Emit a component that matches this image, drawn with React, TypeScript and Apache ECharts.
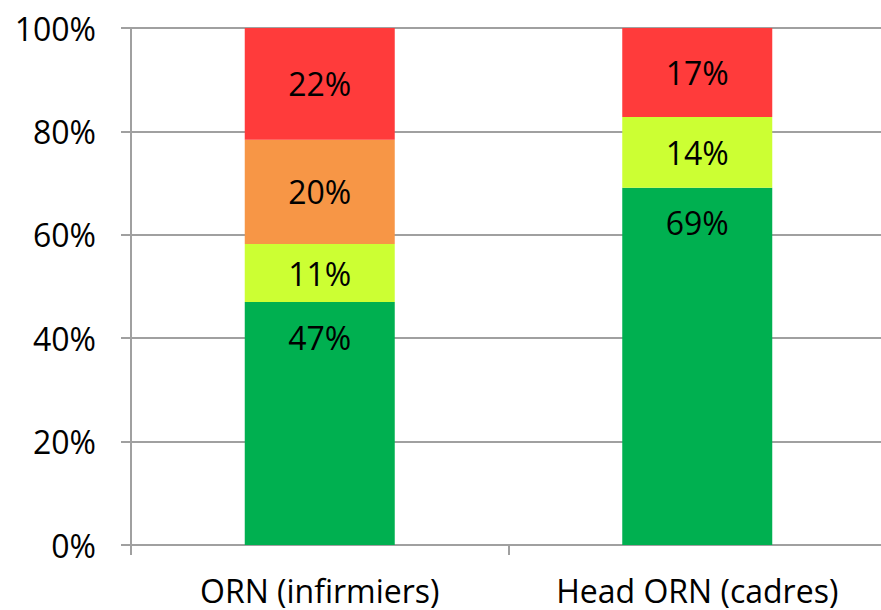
import React, { useEffect, useRef } from "react";
import * as echarts from "echarts";

const categories = ["ORN (infirmiers)", "Head ORN (cadres)"];
const greenValues = [47.0, 69.1];
const yellowValues = [11.2, 13.7];
const orangeValues = [20.2, null];
const redValues = [21.6, 17.2];
const yTicks = [0, 20, 40, 60, 80, 100];

const FONT = "Open Sans";

export default function App() {
  const ref = useRef<HTMLDivElement>(null);
  useEffect(() => {
    if (!ref.current) return;
    const chart = echarts.init(ref.current, null, { renderer: "svg" });
    const labelBase = {
      show: true,
      color: "#000",
      fontFamily: FONT,
      fontSize: 32,
      formatter: (p: any) => (p.value == null ? "" : Math.round(p.value) + "%"),
    };
    const mk = (name: string, data: any[], color: string, pos: any, dist?: number) => ({
      name,
      type: "bar",
      stack: "total",
      data,
      barWidth: 150,
      itemStyle: { color },
      label: { ...labelBase, position: pos, distance: dist ?? 5 },
    });
    chart.setOption({
      animation: false,
      grid: { left: 131, right: 0, top: 28, bottom: 65, containLabel: false },
      xAxis: {
        type: "category",
        data: categories,
        boundaryGap: true,
        axisLine: { show: true, lineStyle: { color: "#A0A0A0", width: 2 } },
        axisTick: { show: true, length: 10, alignWithLabel: false, lineStyle: { color: "#A0A0A0", width: 2 } },
        axisLabel: { color: "#000", fontFamily: FONT, fontSize: 32, margin: 29 },
      },
      yAxis: {
        type: "value",
        min: 0,
        max: 100,
        interval: 20,
        axisLine: { show: true, lineStyle: { color: "#A0A0A0", width: 2 } },
        axisTick: { show: true, length: 10, lineStyle: { color: "#A0A0A0", width: 2 } },
        splitLine: { show: true, lineStyle: { color: "#A0A0A0", width: 2 } },
        axisLabel: {
          color: "#000",
          fontFamily: FONT,
          fontSize: 32,
          margin: 35,
          formatter: (v: number) => (yTicks.includes(v) ? v + "%" : ""),
        },
      },
      series: [
        mk("green", greenValues, "#00B050", "insideTop", 19),
        mk("yellow", yellowValues, "#CCFF33", "inside"),
        mk("orange", orangeValues, "#F79646", "inside"),
        mk("red", redValues, "#FF3B3B", "inside"),
      ],
    });
    return () => chart.dispose();
  }, []);
  return (
    <div style={{ width: 881, height: 610, position: "absolute", left: 0, top: 0, overflow: "hidden" }}>
      <div ref={ref} style={{ width: 886, height: 610 }} />
    </div>
  );
}
